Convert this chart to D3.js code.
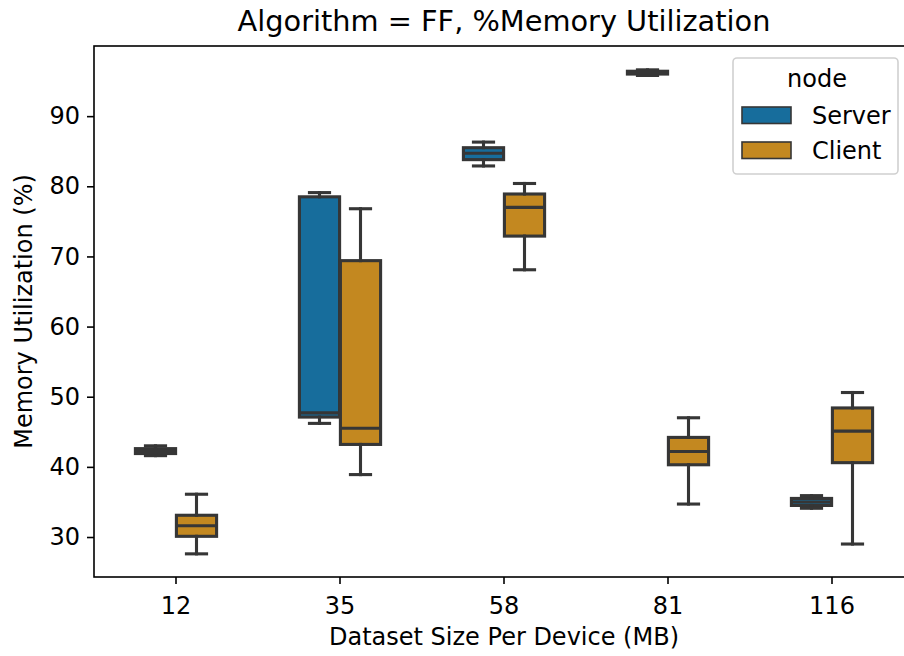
<!DOCTYPE html>
<html>
<head>
<meta charset="utf-8">
<script src="https://cdn.jsdelivr.net/npm/d3@7"></script>
<style>
  html, body { margin: 0; padding: 0; background: #ffffff; overflow: hidden; }
  svg { display: block; font-family: "DejaVu Sans", sans-serif; }
</style>
</head>
<body>
<svg id="chart" width="904" height="656"></svg>
<script>
// Dataset sizes on the x axis and the two node types
const categories = ["12", "35", "58", "81", "116"];
const nodes = ["Server", "Client"];

// Box statistics per dataset size: lower whisker, Q1, median, Q3, upper whisker
const serverLow  = [41.6, 46.2, 82.9, 95.8, 34.1];
const serverQ1   = [41.9, 47.1, 83.8, 96.0, 34.5];
const serverMed  = [42.2, 47.7, 84.7, 96.2, 35.0];
const serverQ3   = [42.6, 78.5, 85.5, 96.4, 35.5];
const serverHigh = [43.0, 79.1, 86.3, 96.6, 35.9];

const clientLow  = [27.6, 38.9, 68.1, 34.7, 29.0];
const clientQ1   = [30.1, 43.2, 72.9, 40.3, 40.6];
const clientMed  = [31.6, 45.5, 77.0, 42.2, 45.1];
const clientQ3   = [33.1, 69.4, 78.9, 44.2, 48.4];
const clientHigh = [36.1, 76.8, 80.4, 47.0, 50.6];

const yTicks = [30, 40, 50, 60, 70, 80, 90];

const colors = { Server: "#176d9c", Client: "#c38820" };
const edge = "#363636";
const fs = 24;          // base font size in px
const titleFs = 28.8;   // title is 1.2x the base size

const margin = { left: 94, top: 46, right: 914, bottom: 577 };
const svg = d3.select("#chart");

const x = d3.scaleBand().domain(categories).range([margin.left, margin.right]).paddingInner(0).paddingOuter(0);
const y = d3.scaleLinear().domain([24.3, 100]).range([margin.bottom, margin.top]);

// Each hue box takes a quarter of the category width (box width 0.5 split over two nodes)
const boxW = x.bandwidth() * 0.25 * 0.98;
const hueOffset = { Server: -x.bandwidth() * 0.125, Client: x.bandwidth() * 0.125 };

const series = {
  Server: categories.map((c, i) => ({ cat: c, low: serverLow[i], q1: serverQ1[i], med: serverMed[i], q3: serverQ3[i], high: serverHigh[i] })),
  Client: categories.map((c, i) => ({ cat: c, low: clientLow[i], q1: clientQ1[i], med: clientMed[i], q3: clientQ3[i], high: clientHigh[i] }))
};

const plot = svg.append("g");

nodes.forEach(node => {
  const g = plot.append("g").attr("class", "boxes-" + node);
  series[node].forEach(d => {
    const cx = x(d.cat) + x.bandwidth() / 2 + hueOffset[node];
    // box
    g.append("rect")
      .attr("x", cx - boxW / 2)
      .attr("y", y(d.q3))
      .attr("width", boxW)
      .attr("height", y(d.q1) - y(d.q3))
      .attr("fill", colors[node])
      .attr("stroke", edge)
      .attr("stroke-width", 3.1)
      .attr("stroke-linejoin", "miter");
    // whiskers
    [[d.q3, d.high], [d.q1, d.low]].forEach(([a, b]) => {
      g.append("line")
        .attr("x1", cx).attr("x2", cx)
        .attr("y1", y(a)).attr("y2", y(b))
        .attr("stroke", edge).attr("stroke-width", 3.1)
        .attr("stroke-linecap", "square");
    });
    // caps
    [d.high, d.low].forEach(v => {
      g.append("line")
        .attr("x1", cx - boxW / 4).attr("x2", cx + boxW / 4)
        .attr("y1", y(v)).attr("y2", y(v))
        .attr("stroke", edge).attr("stroke-width", 3.1)
        .attr("stroke-linecap", "square");
    });
    // median
    g.append("line")
      .attr("x1", cx - boxW / 2).attr("x2", cx + boxW / 2)
      .attr("y1", y(d.med)).attr("y2", y(d.med))
      .attr("stroke", edge).attr("stroke-width", 3.1);
  });
});

// Axes
const xAxis = d3.axisBottom(x).tickSize(7).tickPadding(7);
const yAxis = d3.axisLeft(y).tickValues(yTicks).tickSize(7).tickPadding(7);

const gx = svg.append("g").attr("transform", `translate(0,${margin.bottom})`).call(xAxis);
const gy = svg.append("g").attr("transform", `translate(${margin.left},0)`).call(yAxis);
[gx, gy].forEach(g => {
  g.select(".domain").remove();
  g.selectAll(".tick line").attr("stroke", "#000").attr("stroke-width", 1.6);
  g.selectAll(".tick text").attr("fill", "#000").style("font-size", fs + "px").style("font-family", "DejaVu Sans");
});
gx.selectAll(".tick text").attr("dy", null).attr("y", 37);

// Frame
svg.append("rect")
  .attr("x", margin.left).attr("y", margin.top)
  .attr("width", margin.right - margin.left).attr("height", margin.bottom - margin.top)
  .attr("fill", "none").attr("stroke", "#000").attr("stroke-width", 1.6);

// Titles
svg.append("text")
  .attr("x", (margin.left + margin.right) / 2).attr("y", 31)
  .attr("text-anchor", "middle").style("font-size", titleFs + "px")
  .text("Algorithm = FF, %Memory Utilization");

svg.append("text")
  .attr("x", (margin.left + margin.right) / 2).attr("y", 645)
  .attr("text-anchor", "middle").style("font-size", fs + "px")
  .text("Dataset Size Per Device (MB)");

svg.append("text")
  .attr("transform", `translate(32,${(margin.top + margin.bottom) / 2}) rotate(-90)`)
  .attr("text-anchor", "middle").style("font-size", fs + "px")
  .text("Memory Utilization (%)");

// Legend
const legend = svg.append("g");
legend.append("rect")
  .attr("x", 733).attr("y", 58).attr("width", 165).attr("height", 116)
  .attr("rx", 4).attr("ry", 4)
  .attr("fill", "#ffffff").attr("fill-opacity", 0.8)
  .attr("stroke", "#d0d0d0").attr("stroke-width", 1.6);
legend.append("text")
  .attr("x", 817).attr("y", 87)
  .attr("text-anchor", "middle").style("font-size", fs + "px")
  .text("node");
nodes.forEach((n, i) => {
  const top = 107 + i * 35;
  legend.append("rect")
    .attr("x", 742).attr("y", top).attr("width", 49).attr("height", 16.5)
    .attr("fill", colors[n]).attr("stroke", edge).attr("stroke-width", 1.6);
  legend.append("text")
    .attr("x", 812).attr("y", top + 16.5)
    .style("font-size", fs + "px")
    .text(n);
});
</script>
</body>
</html>
